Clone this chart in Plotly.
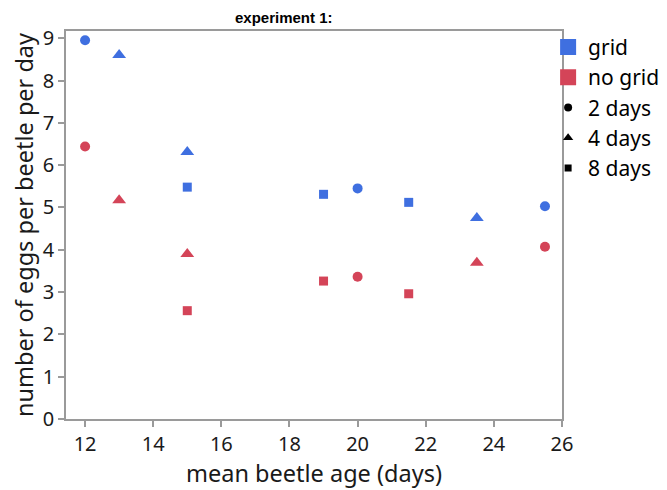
import plotly.graph_objects as go

# data
grid_2d_x = [12, 20, 25.5]
grid_2d_y = [8.95, 5.45, 5.03]
grid_4d_x = [13, 15, 23.5]
grid_4d_y = [8.6, 6.31, 4.75]
grid_8d_x = [15, 19, 21.5]
grid_8d_y = [5.48, 5.31, 5.12]
nogrid_2d_x = [12, 20, 25.5]
nogrid_2d_y = [6.44, 3.36, 4.07]
nogrid_4d_x = [13, 15, 23.5]
nogrid_4d_y = [5.17, 3.9, 3.69]
nogrid_8d_x = [15, 19, 21.5]
nogrid_8d_y = [2.56, 3.26, 2.96]

x_ticks = [12, 14, 16, 18, 20, 22, 24, 26]
y_ticks = [0, 1, 2, 3, 4, 5, 6, 7, 8, 9]

BLUE = "#3F6FE0"
RED = "#D44458"
FONT = "Noto Sans"

fig = go.Figure()

series = [
    (grid_2d_x, grid_2d_y, BLUE, "circle", 10),
    (grid_4d_x, grid_4d_y, BLUE, "triangle-up", 12),
    (grid_8d_x, grid_8d_y, BLUE, "square", 9),
    (nogrid_2d_x, nogrid_2d_y, RED, "circle", 10),
    (nogrid_4d_x, nogrid_4d_y, RED, "triangle-up", 12),
    (nogrid_8d_x, nogrid_8d_y, RED, "square", 9),
]
for xs, ys, col, sym, sz in series:
    fig.add_trace(go.Scatter(x=xs, y=ys, mode="markers", showlegend=False,
                             marker=dict(color=col, symbol=sym, size=sz, line=dict(width=0))))

legend_items = [
    ("grid", BLUE, "square", 17),
    ("no grid", RED, "square", 17),
    ("2 days", "black", "circle", 8),
    ("4 days", "black", "triangle-up", 9),
    ("8 days", "black", "square", 7),
]
for name, col, sym, sz in legend_items:
    fig.add_trace(go.Scatter(x=[None], y=[None], mode="markers", name=name,
                             marker=dict(color=col, symbol=sym, size=sz, line=dict(width=0))))

axis_common = dict(
    showline=True, linecolor="#9a9a9a", linewidth=1.5, mirror=True,
    ticks="outside", ticklen=6, tickcolor="#9a9a9a", tickwidth=1.5,
    showgrid=False, zeroline=False,
    tickfont=dict(family=FONT, size=20, color="#1a1a1a"),
)

fig.update_layout(
    width=659, height=482,
    margin=dict(l=58, r=105, t=23, b=71, autoexpand=False),
    paper_bgcolor="white", plot_bgcolor="white",
    font=dict(family=FONT, color="#1a1a1a"),
    xaxis=dict(range=[11.44, 26.0], tickvals=x_ticks,
               title=dict(text="mean beetle age (days)", font=dict(family=FONT, size=23.5), standoff=6),
               **axis_common),
    yaxis=dict(range=[0, 9.17], tickvals=y_ticks,
               title=dict(text="number of eggs per beetle per day", font=dict(family=FONT, size=23.5), standoff=4),
               **axis_common),
    legend=dict(x=0.972, xanchor="left", y=1.011, yanchor="top",
                font=dict(family=FONT, size=21, color="black"),
                itemwidth=30, tracegroupgap=0, bgcolor="rgba(0,0,0,0)",
                borderwidth=0),
    annotations=[dict(text="<b>experiment 1:</b>", xref="paper", yref="paper",
                      x=0.44, y=1.0, yanchor="bottom", xanchor="center", showarrow=False,
                      font=dict(family="Liberation Sans", size=15, color="black"), yshift=3)],
)

fig.write_html("out.html")
